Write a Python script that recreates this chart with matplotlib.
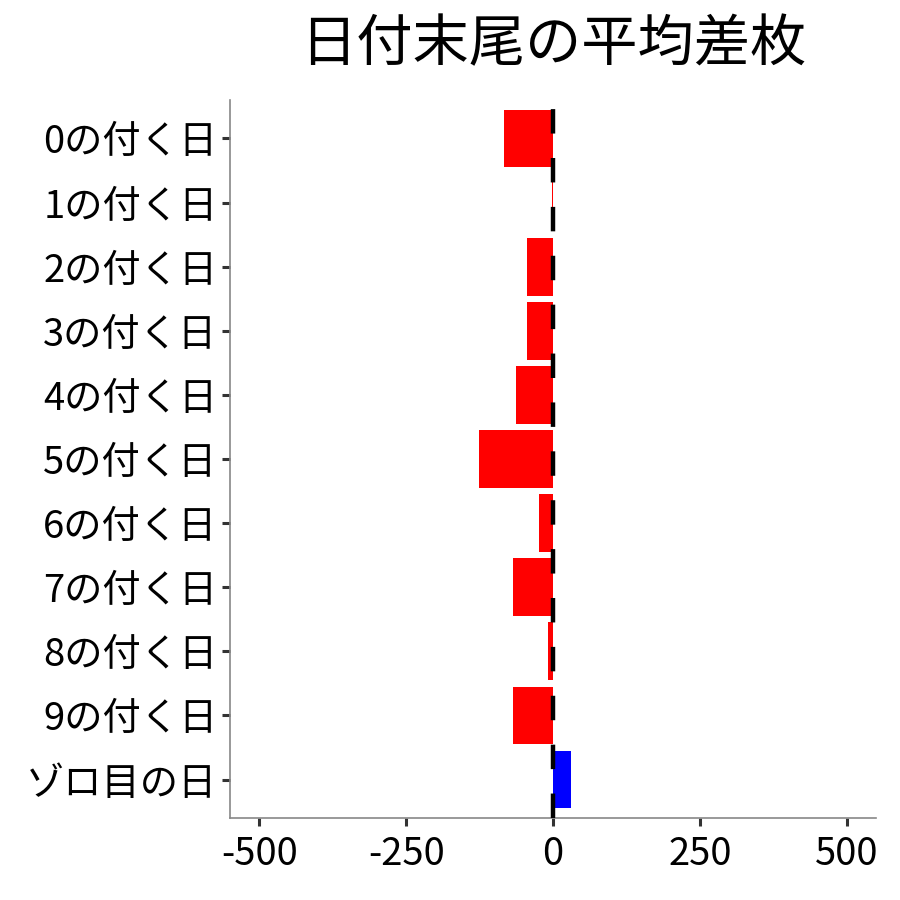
import matplotlib
matplotlib.use("Agg")
import matplotlib.pyplot as plt
import numpy as np

plt.rcParams['font.family'] = ['Noto Sans CJK JP', 'DejaVu Sans']
plt.rcParams['axes.unicode_minus'] = False

categories = ["0の付く日", "1の付く日", "2の付く日", "3の付く日", "4の付く日",
              "5の付く日", "6の付く日", "7の付く日", "8の付く日", "9の付く日",
              "ゾロ目の日"]
values = [-83, -2, -44, -44, -63, -126, -24, -68, -9, -68, 30]
x_ticks = [-500, -250, 0, 250, 500]

colors = ["blue" if v > 0 else "red" for v in values]

fig = plt.figure(figsize=(9, 9), dpi=100)
ax = fig.add_axes([230/900, 1 - 818/900, (876-230)/900, (818-100)/900])

y_pos = np.arange(len(categories))
ax.barh(y_pos, values, height=0.9, color=colors, zorder=2)
ax.axvline(0, color="black", linewidth=3.2, linestyle=(0, (5.5, 5.5)), zorder=3)

ax.set_ylim(len(categories) - 0.4, -0.6)
ax.set_xlim(-550, 550)
ax.set_yticks(y_pos)
ax.set_yticklabels(categories)
ax.set_xticks(x_ticks)
ax.set_xticklabels([str(t) for t in x_ticks])

for side in ("top", "right"):
    ax.spines[side].set_visible(False)
for side in ("left", "bottom"):
    ax.spines[side].set_color("#888888")
    ax.spines[side].set_linewidth(1.2)

ax.tick_params(axis="both", labelsize=27.5, color="#333333", width=2.2, length=6,
               labelcolor="black", pad=3)
ax.tick_params(axis="x", pad=6)

fig.text(553/900, 1 - 45/900, "日付末尾の平均差枚", fontsize=40.5,
         ha="center", va="center")

fig.savefig("out.png", dpi=100, facecolor="white")
